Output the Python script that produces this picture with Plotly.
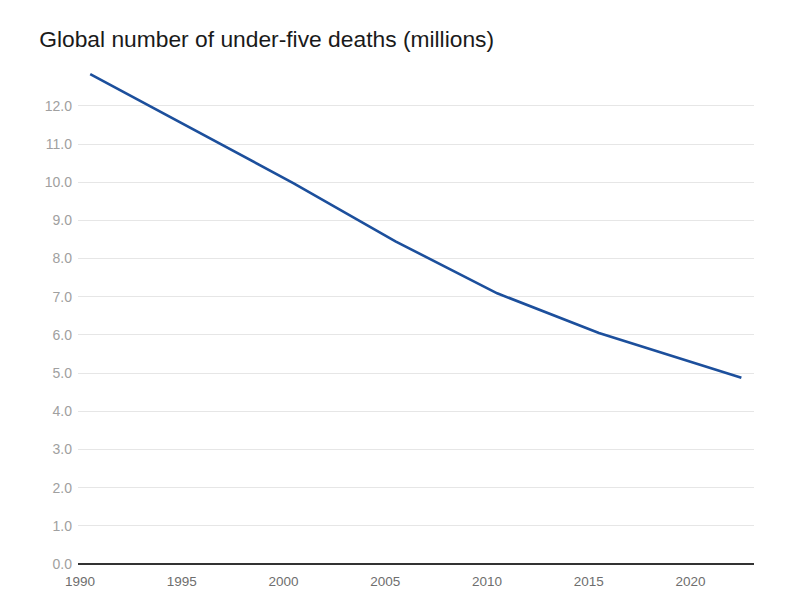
import plotly.graph_objects as go

years = [1990, 1995, 2000, 2005, 2010, 2015, 2022]
deaths_millions = [12.83, 11.4, 9.97, 8.45, 7.09, 6.05, 4.88]

tick_years = [1990, 1995, 2000, 2005, 2010, 2015, 2020]
tick_labels = [str(y) for y in tick_years]
y_ticks = [float(v) for v in range(0, 13)]
y_tick_labels = [f"{v:.1f}" for v in y_ticks]

fig = go.Figure()
fig.add_trace(go.Scatter(
    x=years, y=deaths_millions, mode="lines",
    line=dict(color="#1c4f9c", width=2.6),
    hoverinfo="x+y", showlegend=False,
))

fig.update_layout(
    width=800, height=606,
    paper_bgcolor="white", plot_bgcolor="white",
    margin=dict(l=70, r=54, t=52, b=50, autoexpand=False),
    font=dict(family="Liberation Sans, Arial, sans-serif"),
    title=dict(
        text="Global number of under-five deaths (millions)",
        x=0.039, xanchor="left", y=0.935, yanchor="bottom",
        font=dict(size=22.8, color="#1a1a1a", family="Liberation Sans, Arial, sans-serif"),
    ),
    xaxis=dict(
        range=[1989.4, 2022.62],
        tickmode="array",
        tickvals=[y - 0.5 for y in tick_years],
        ticktext=tick_labels,
        showgrid=False, zeroline=False,
        showline=False, automargin=False,
        tickfont=dict(size=13.5, color="#6e6e6e"),
        ticks="", ticklabelstandoff=7, fixedrange=True,
    ),
    yaxis=dict(
        range=[0, 13.2],
        tickmode="array", tickvals=y_ticks, ticktext=y_tick_labels,
        showgrid=True, gridcolor="#e6e6e6", gridwidth=1,
        zeroline=True, zerolinecolor="#333333", zerolinewidth=2,
        showline=False, automargin=False,
        tickfont=dict(size=14, color="#a0a0a0"),
        ticks="", ticklabelstandoff=5, fixedrange=True,
    ),
)

fig.write_html("out.html")
